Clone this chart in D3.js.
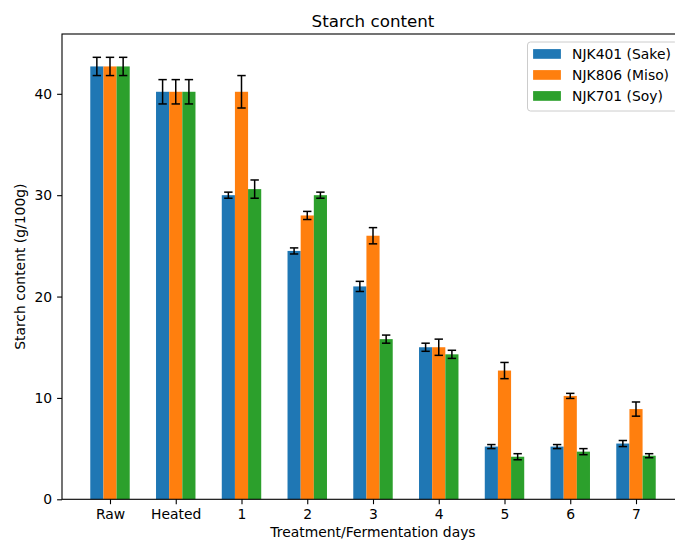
<!DOCTYPE html>
<html>
<head>
<meta charset="utf-8">
<script src="https://cdn.jsdelivr.net/npm/d3@7"></script>
<style>
  html, body { margin: 0; padding: 0; background: #fff; }
  svg { display: block; }
  text { font-family: "DejaVu Sans", sans-serif; fill: #000; }
</style>
</head>
<body>
<svg id="chart" width="675" height="540"></svg>
<script>
// Categories along the x axis
const categories = ["Raw", "Heated", "1", "2", "3", "4", "5", "6", "7"];

// Strain names (legend order)
const strains = ["NJK401 (Sake)", "NJK806 (Miso)", "NJK701 (Soy)"];

// Mean starch content (g/100g) per strain
const sakeMeans = [42.7, 40.2, 30.0, 24.5, 21.0, 15.0, 5.2, 5.2, 5.5];
const misoMeans = [42.7, 40.2, 40.2, 28.0, 26.0, 15.0, 12.7, 10.2, 8.9];
const soyMeans  = [42.7, 40.2, 30.6, 30.0, 15.8, 14.3, 4.2, 4.7, 4.3];

// Standard deviations per strain
const sakeErr = [0.9, 1.2, 0.3, 0.3, 0.5, 0.4, 0.2, 0.2, 0.3];
const misoErr = [0.9, 1.2, 1.6, 0.4, 0.8, 0.8, 0.8, 0.25, 0.7];
const soyErr  = [0.9, 1.2, 0.9, 0.3, 0.4, 0.4, 0.3, 0.3, 0.2];

// Y tick values
const yTicks = [0, 10, 20, 30, 40];

const colors = ["#1f77b4", "#ff7f0e", "#2ca02c"];
const means = [sakeMeans, misoMeans, soyMeans];
const errs = [sakeErr, misoErr, soyErr];

const svg = d3.select("#chart");
const plot = { left: 62, right: 684, top: 34, bottom: 499.3 };
const barWidth = 0.2;
const offsets = [-barWidth, 0, barWidth];

const x = d3.scaleLinear().domain([-0.73, categories.length - 1 + 0.73]).range([plot.left, plot.right]);
const y = d3.scaleLinear().domain([0, 45.9]).range([plot.bottom, plot.top]);

// Bars
strains.forEach((name, s) => {
  svg.append("g")
    .selectAll("rect")
    .data(means[s])
    .join("rect")
    .attr("x", (d, i) => x(i + offsets[s] - barWidth / 2))
    .attr("width", (d, i) => x(i + offsets[s] + barWidth / 2) - x(i + offsets[s] - barWidth / 2))
    .attr("y", d => y(d))
    .attr("height", d => y(0) - y(d))
    .attr("fill", colors[s]);
});

// Error bars with caps
const capHalf = 4.2;
strains.forEach((name, s) => {
  const g = svg.append("g").attr("stroke", "#000").attr("stroke-width", 1.5);
  means[s].forEach((m, i) => {
    const cx = x(i + offsets[s]);
    const lo = y(m - errs[s][i]);
    const hi = y(m + errs[s][i]);
    g.append("line").attr("x1", cx).attr("x2", cx).attr("y1", lo).attr("y2", hi);
    g.append("line").attr("x1", cx - capHalf).attr("x2", cx + capHalf).attr("y1", lo).attr("y2", lo);
    g.append("line").attr("x1", cx - capHalf).attr("x2", cx + capHalf).attr("y1", hi).attr("y2", hi);
  });
});

// Axes
const xAxis = d3.axisBottom(x)
  .tickValues(d3.range(categories.length))
  .tickFormat(i => categories[i])
  .tickSize(4.9)
  .tickPadding(4.9);
const yAxis = d3.axisLeft(y)
  .tickValues(yTicks)
  .tickSize(4.9)
  .tickPadding(4.9);

const gx = svg.append("g").attr("transform", `translate(0,${plot.bottom})`).call(xAxis);
const gy = svg.append("g").attr("transform", `translate(${plot.left},0)`).call(yAxis);
[gx, gy].forEach(g => {
  g.select(".domain").remove();
  g.selectAll("line").attr("stroke", "#000").attr("stroke-width", 1.1);
  g.selectAll("text").attr("font-size", 13.9).attr("font-family", "DejaVu Sans").attr("fill", "#000");
});

// Frame (spines)
const frame = svg.append("g").attr("stroke", "#000").attr("stroke-width", 1.1).attr("fill", "none");
frame.append("rect")
  .attr("x", plot.left).attr("y", plot.top)
  .attr("width", plot.right - plot.left).attr("height", plot.bottom - plot.top);

// Title and axis labels
const cx = (plot.left + plot.right) / 2;
svg.append("text").attr("x", cx).attr("y", 27).attr("text-anchor", "middle")
  .attr("font-size", 16.7).text("Starch content");
svg.append("text").attr("x", cx).attr("y", 536.5).attr("text-anchor", "middle")
  .attr("font-size", 13.9).text("Treatment/Fermentation days");
svg.append("text")
  .attr("transform", `translate(25,${(plot.top + plot.bottom) / 2}) rotate(-90)`)
  .attr("text-anchor", "middle")
  .attr("font-size", 13.9).text("Starch content (g/100g)");

// Legend
const legend = svg.append("g").attr("transform", "translate(527.5,42)");
legend.append("rect")
  .attr("x", 0).attr("y", 0).attr("width", 150).attr("height", 69)
  .attr("rx", 3).attr("fill", "#fff").attr("fill-opacity", 0.8)
  .attr("stroke", "#ccc").attr("stroke-width", 1);
strains.forEach((name, s) => {
  const row = legend.append("g").attr("transform", `translate(5.6,${12 + s * 21})`);
  row.append("rect").attr("x", 0).attr("y", -4.9).attr("width", 27.8).attr("height", 9.7).attr("fill", colors[s]);
  row.append("text").attr("x", 39).attr("y", 5).attr("font-size", 13.9).text(name);
});
</script>
</body>
</html>
